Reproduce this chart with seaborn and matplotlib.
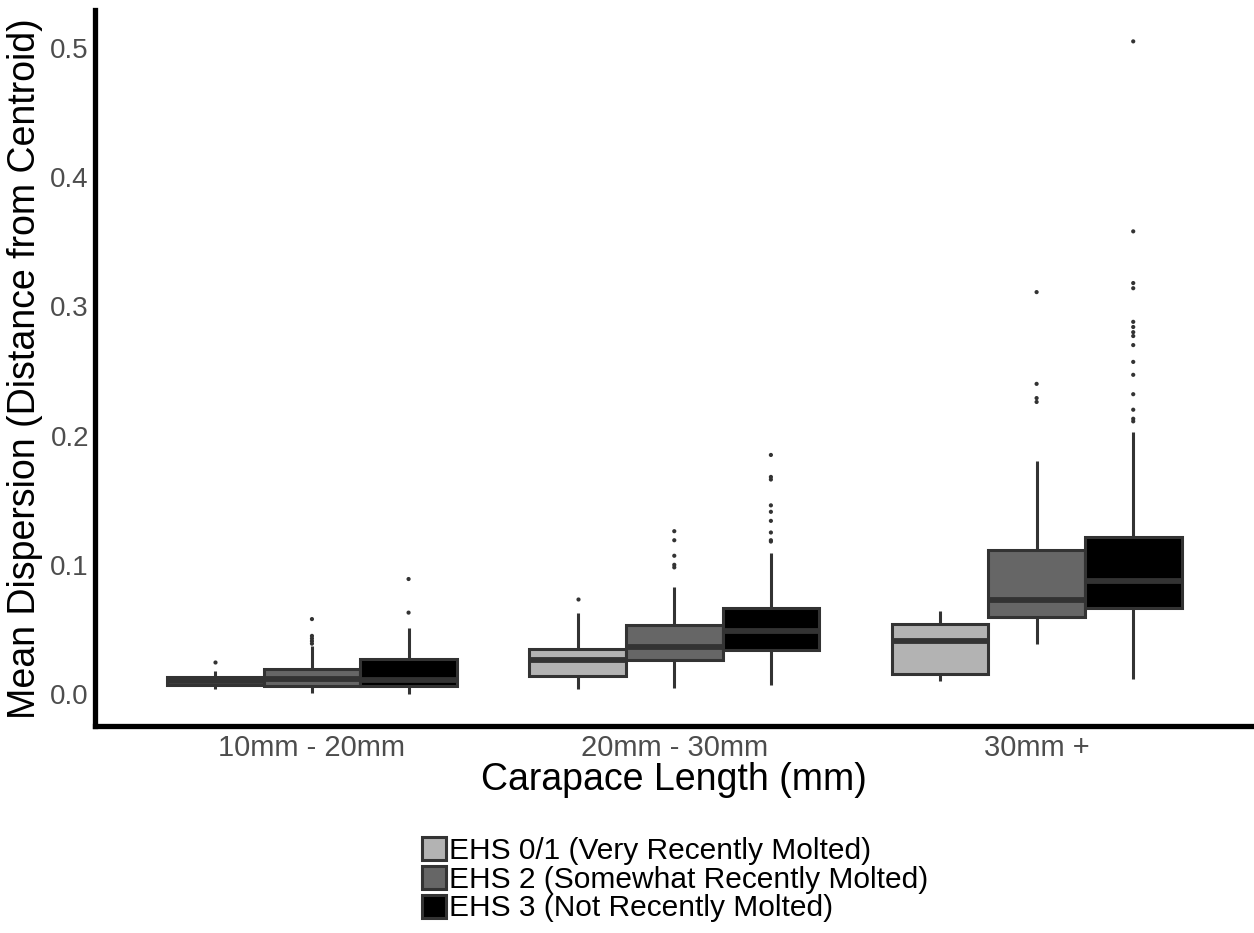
import numpy as np
import pandas as pd
import seaborn as sns
import matplotlib
matplotlib.use("Agg")
import matplotlib.pyplot as plt

# Categorias
tallas = ["10mm - 20mm", "20mm - 30mm", "30mm +"]
estadios = ["EHS 0/1 (Very Recently Molted)",
            "EHS 2 (Somewhat Recently Molted)",
            "EHS 3 (Not Recently Molted)"]

# Resumen de cinco numeros (orden: talla, luego estadio)
bigote_inf = [0.004, 0.001, 0.000,  0.0036, 0.005, 0.007,  0.010, 0.0387, 0.0113]
q1 = [0.007, 0.006, 0.0065,  0.0139, 0.0263, 0.034,  0.0155, 0.0598, 0.0668]
mediana = [0.010, 0.012, 0.011,  0.0263, 0.0366, 0.0487,  0.0412, 0.0727, 0.0874]
q3 = [0.013, 0.019, 0.027,  0.0346, 0.0534, 0.0663,  0.0539, 0.1114, 0.1217]
bigote_sup = [0.018, 0.037, 0.051,  0.0629, 0.083, 0.109,  0.0644, 0.180, 0.203]

# Valores atipicos de cada caja
atipicos = [
    [0.025],
    [0.058, 0.045, 0.043, 0.041, 0.039],
    [0.089, 0.063],
    [0.0735],
    [0.126, 0.119, 0.107, 0.100, 0.098],
    [0.185, 0.168, 0.166, 0.146, 0.141, 0.134, 0.125, 0.119, 0.118],
    [],
    [0.311, 0.240, 0.229, 0.226],
    [0.505, 0.358, 0.318, 0.314, 0.288, 0.284, 0.280, 0.277, 0.270,
     0.257, 0.247, 0.232, 0.220, 0.213, 0.211],
]

colores = ["#b3b3b3", "#666666", "#000000"]

# Tablas largas para seaborn
filas, filas_out = [], []
k = 0
for t in tallas:
    for e in estadios:
        for v in (bigote_inf[k], q1[k], mediana[k], q3[k], bigote_sup[k]):
            filas.append((t, e, v))
        for v in atipicos[k]:
            filas_out.append((t, e, v))
        k += 1
df = pd.DataFrame(filas, columns=["talla", "estadio", "valor"])
df_out = pd.DataFrame(filas_out, columns=["talla", "estadio", "valor"])

sns.set_theme(style="white")
plt.rcParams["font.family"] = ["Liberation Sans", "DejaVu Sans"]

fig = plt.figure(figsize=(12.54, 9.33), dpi=100)
ax = fig.add_axes([0.0754, 0.2219, 0.9246, 0.767])

sns.boxplot(data=df, x="talla", y="valor", hue="estadio",
            order=tallas, hue_order=estadios, palette=colores,
            width=0.8, whis=(0, 100), showfliers=False, showcaps=False,
            saturation=1, linecolor="#333333", linewidth=2.2,
            medianprops={"linewidth": 4.2, "color": "#333333"}, ax=ax)

sns.stripplot(data=df_out, x="talla", y="valor", hue="estadio",
              order=tallas, hue_order=estadios,
              palette=["#333333"] * 3, dodge=True, jitter=False,
              size=3, legend=False, ax=ax)

ax.set_xlim(-0.6, 2.6)
ax.set_ylim(-0.0247, 0.529)
ax.set_yticks([0.0, 0.1, 0.2, 0.3, 0.4, 0.5])
ax.set_yticklabels(["0.0", "0.1", "0.2", "0.3", "0.4", "0.5"])

for lado in ["top", "right"]:
    ax.spines[lado].set_visible(False)
for lado in ["left", "bottom"]:
    ax.spines[lado].set_linewidth(3.8)
    ax.spines[lado].set_color("black")

ax.tick_params(axis="both", length=3, width=1, color="#333333",
               labelsize=20, labelcolor="#4d4d4d", pad=1)
ax.tick_params(axis="x", pad=3, labelsize=21)
ax.grid(False)

ax.set_xlabel("Carapace Length (mm)", fontsize=27, color="black", labelpad=0)
ax.set_ylabel("Mean Dispersion (Distance from Centroid)", fontsize=27,
              color="black", labelpad=5)

sns.move_legend(ax, "upper left", bbox_to_anchor=(0.259, -0.118),
                title=None, frameon=False, fontsize=21.5, labelcolor="black",
                handlelength=0.8, handleheight=0.8, handletextpad=0.12,
                labelspacing=0.02, borderpad=0.4)

fig.savefig("out.png", dpi=100)
